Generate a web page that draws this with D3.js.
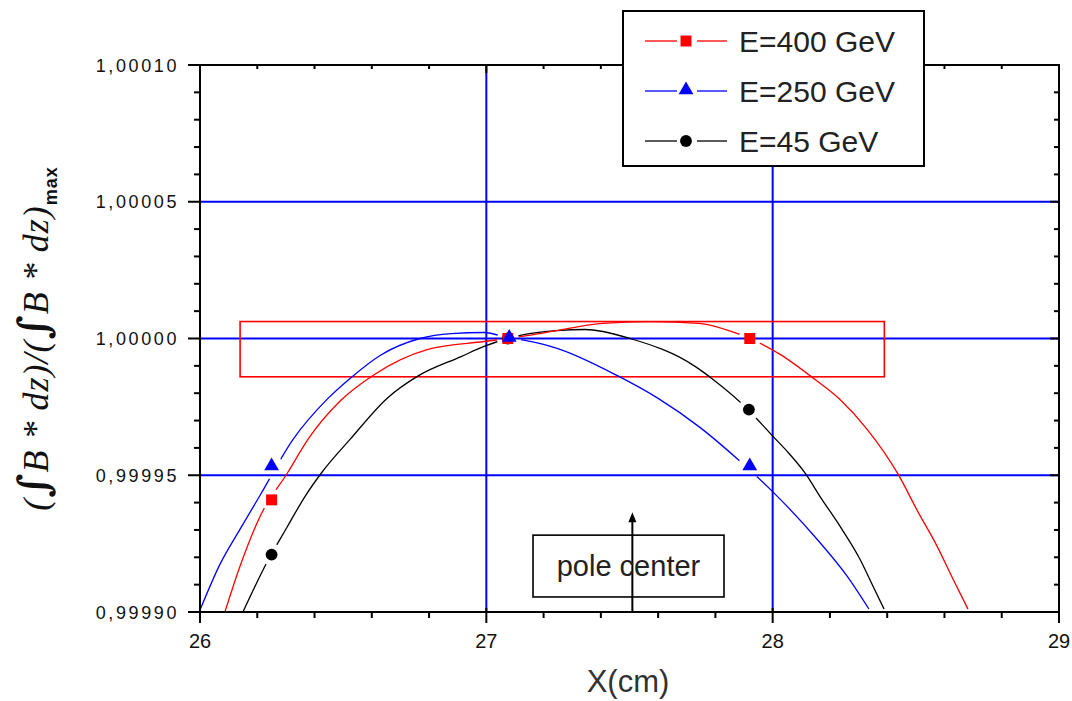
<!DOCTYPE html>
<html>
<head>
<meta charset="utf-8">
<script src="https://cdn.jsdelivr.net/npm/d3@7"></script>
<style>
  html, body { margin: 0; padding: 0; background: #fff; }
  svg { display: block; }
</style>
</head>
<body>
<svg id="chart" width="1072" height="701"></svg>
<script>
// ---------- data ----------
const seriesNames = ["E=400 GeV", "E=250 GeV", "E=45 GeV"];
const xTicks = [26, 27, 28, 29];
const yTicks = [0.99990, 0.99995, 1.00000, 1.00005, 1.00010];
const xGrid = [27, 28];
const yGrid = [0.99995, 1.00000, 1.00005];

// E=400 GeV (red) curve
const redX = [26.087, 26.140, 26.210, 26.307, 26.377, 26.492, 26.604, 26.796, 26.992, 27.076, 27.187, 27.407, 27.572, 27.743, 27.855, 27.921, 28.026, 28.148, 28.235, 28.330, 28.438, 28.508, 28.574, 28.630, 28.682];
const redY = [0.9999000, 0.9999168, 0.9999350, 0.9999511, 0.9999631, 0.9999774, 0.9999865, 0.9999960, 0.9999989, 1.0000000, 1.0000018, 1.0000055, 1.0000062, 1.0000055, 1.0000026, 1.0000000, 0.9999942, 0.9999850, 0.9999777, 0.9999668, 0.9999504, 0.9999365, 0.9999241, 0.9999120, 0.9999011];
// E=250 GeV (blue) curve
const blueX = [26.000, 26.070, 26.140, 26.210, 26.325, 26.447, 26.524, 26.629, 26.768, 26.877, 26.992, 27.083, 27.135, 27.247, 27.456, 27.600, 27.746, 27.886, 27.998, 28.155, 28.260, 28.336];
const blueY = [0.9999007, 0.9999175, 0.9999303, 0.9999427, 0.9999631, 0.9999781, 0.9999854, 0.9999938, 1.0000000, 1.0000018, 1.0000022, 1.0000000, 0.9999993, 0.9999964, 0.9999865, 0.9999781, 0.9999675, 0.9999551, 0.9999442, 0.9999266, 0.9999131, 0.9999011];
// E=45 GeV (black) curve
const blackX = [26.150, 26.234, 26.304, 26.367, 26.426, 26.524, 26.653, 26.765, 26.912, 26.992, 27.076, 27.135, 27.247, 27.345, 27.502, 27.729, 27.792, 27.917, 28.001, 28.050, 28.116, 28.165, 28.235, 28.305, 28.350, 28.389];
const blackY = [0.9999000, 0.9999182, 0.9999310, 0.9999423, 0.9999511, 0.9999631, 0.9999781, 0.9999865, 0.9999934, 0.9999971, 1.0000000, 1.0000015, 1.0000029, 1.0000033, 1.0000000, 0.9999898, 0.9999850, 0.9999737, 0.9999642, 0.9999588, 0.9999504, 0.9999423, 0.9999314, 0.9999193, 0.9999095, 0.9999011];

// symbols
const redMarkX = [26.25, 27.075, 27.92];
const redMarkY = [0.999941, 1.00000, 1.00000];
const blueMarkX = [26.25, 27.08, 27.92];
const blueMarkY = [0.999953, 1.00000, 0.999953];
const blackMarkX = [26.25, 27.075, 27.917];
const blackMarkY = [0.999921, 1.00000, 0.999974];

// annotations
const highlightBox = {x0: 26.14, x1: 28.39, y0: 0.999986, y1: 1.0000062};
const poleCenterX = 27.51;
const poleArrowTopY = 0.9999365;
const poleLabelBox = {x0: 27.163, x1: 27.83, y0: 0.9999055, y1: 0.9999281};
const poleLabel = "pole center";
const xTitle = "X(cm)";

// ---------- layout ----------
const svg = d3.select("#chart");
const L = 200, R = 1059, T = 65, B = 612;
const x = d3.scaleLinear().domain([26, 29]).range([L, R]);
const y = d3.scaleLinear().domain([0.9999, 1.0001]).range([B, T]);
const fmtY = v => d3.format(".5f")(v).replace(".", ",");

const colors = ["#ff0000", "#0000ff", "#000000"];

// grid lines (blue)
const grid = svg.append("g");
grid.selectAll("line.gx").data(xGrid).join("line")
  .attr("x1", d => x(d)).attr("x2", d => x(d)).attr("y1", T).attr("y2", B)
  .attr("stroke", "#0000ff").attr("stroke-width", 2);
grid.selectAll("line.gy").data(yGrid).join("line")
  .attr("x1", L).attr("x2", R).attr("y1", d => y(d)).attr("y2", d => y(d))
  .attr("stroke", "#0000ff").attr("stroke-width", 2);

// highlight rectangle
svg.append("rect")
  .attr("x", x(highlightBox.x0)).attr("y", y(highlightBox.y1))
  .attr("width", x(highlightBox.x1) - x(highlightBox.x0))
  .attr("height", y(highlightBox.y0) - y(highlightBox.y1))
  .attr("fill", "none").attr("stroke", "#ff0000").attr("stroke-width", 1.6);

// clip
const defs = svg.append("defs");
defs.append("clipPath").attr("id", "plotclip").append("rect")
  .attr("x", L).attr("y", T).attr("width", R - L).attr("height", B - T);

const series = [
  {xs: redX, ys: redY, mx: redMarkX, my: redMarkY, color: colors[0], sym: "square"},
  {xs: blueX, ys: blueY, mx: blueMarkX, my: blueMarkY, color: colors[1], sym: "triangle"},
  {xs: blackX, ys: blackY, mx: blackMarkX, my: blackMarkY, color: colors[2], sym: "circle"}
];

// masks with gaps around symbols
series.forEach((s, i) => {
  const m = defs.append("mask").attr("id", "gap" + i).attr("maskUnits", "userSpaceOnUse")
    .attr("x", 0).attr("y", 0).attr("width", 1072).attr("height", 701);
  m.append("rect").attr("x", 0).attr("y", 0).attr("width", 1072).attr("height", 701).attr("fill", "#fff");
  s.mx.forEach((mx, k) => {
    m.append("circle").attr("cx", x(mx)).attr("cy", y(s.my[k])).attr("r", i === 1 ? 12 : 11).attr("fill", "#000");
  });
});

const line = d3.line().x(d => x(d[0])).y(d => y(d[1])).curve(d3.curveMonotoneX);
const plot = svg.append("g").attr("clip-path", "url(#plotclip)");
// draw black first, then red, then blue
[2, 0, 1].forEach(i => {
  const s = series[i];
  const pts = s.xs.map((v, k) => [v, s.ys[k]]);
  plot.append("path").datum(pts).attr("d", line)
    .attr("fill", "none").attr("stroke", s.color).attr("stroke-width", 1.3)
    .attr("mask", "url(#gap" + i + ")");
});

function symbolPath(sym, size) {
  const t = sym === "square" ? d3.symbolSquare : sym === "triangle" ? d3.symbolTriangle : d3.symbolCircle;
  return d3.symbol().type(t).size(size)();
}
const symSize = {square: 120, triangle: 95, circle: 110};
[2, 0, 1].forEach(i => {
  const s = series[i];
  svg.selectAll(null).data(s.mx.map((v, k) => [v, s.my[k]])).join("path")
    .attr("transform", d => `translate(${x(d[0])},${y(d[1]) + (s.sym === "triangle" ? -1 : 0)})`)
    .attr("d", symbolPath(s.sym, symSize[s.sym]))
    .attr("fill", s.color);
});

// pole center annotation
svg.append("line")
  .attr("x1", x(poleCenterX)).attr("x2", x(poleCenterX))
  .attr("y1", B).attr("y2", y(poleArrowTopY) + 6)
  .attr("stroke", "#000").attr("stroke-width", 2);
svg.append("path")
  .attr("d", `M${x(poleCenterX)},${y(poleArrowTopY)} l-4,10 l8,0 z`)
  .attr("fill", "#000");
svg.append("rect")
  .attr("x", x(poleLabelBox.x0)).attr("y", y(poleLabelBox.y1))
  .attr("width", x(poleLabelBox.x1) - x(poleLabelBox.x0))
  .attr("height", y(poleLabelBox.y0) - y(poleLabelBox.y1))
  .attr("fill", "none").attr("stroke", "#000").attr("stroke-width", 1.6);
svg.append("text")
  .attr("x", (x(poleLabelBox.x0) + x(poleLabelBox.x1)) / 2)
  .attr("y", (y(poleLabelBox.y0) + y(poleLabelBox.y1)) / 2 + 10)
  .attr("text-anchor", "middle")
  .attr("font-family", "Liberation Sans, Arial, sans-serif").attr("font-size", 29)
  .attr("fill", "#222").text(poleLabel);

// frame
svg.append("rect").attr("x", L).attr("y", T).attr("width", R - L).attr("height", B - T)
  .attr("fill", "none").attr("stroke", "#000").attr("stroke-width", 2);

// ticks
const xMinor = d3.range(26, 29.0001, 0.2);
const yMinor = d3.range(0, 21).map(k => 0.9999 + k * 0.00001);
const isMajX = v => Math.abs(v - Math.round(v)) < 1e-6;
const isMajY = v => Math.abs(v * 20000 - Math.round(v * 20000)) < 1e-4;
const tk = svg.append("g").attr("stroke", "#000").attr("stroke-width", 2);
xMinor.forEach(v => {
  const maj = isMajX(v);
  tk.append("line").attr("x1", x(v)).attr("x2", x(v)).attr("y1", maj ? B - 4 : B).attr("y2", B + (maj ? 11 : 6));
  tk.append("line").attr("x1", x(v)).attr("x2", x(v)).attr("y1", T).attr("y2", T + (maj ? 8 : 4));
});
yMinor.forEach(v => {
  const maj = isMajY(v);
  tk.append("line").attr("x1", L - (maj ? 12 : 6)).attr("x2", L).attr("y1", y(v)).attr("y2", y(v));
  tk.append("line").attr("x1", R - (maj ? 9 : 5)).attr("x2", R).attr("y1", y(v)).attr("y2", y(v));
});

// tick labels
svg.append("g").selectAll("text").data(xTicks).join("text")
  .attr("x", d => x(d)).attr("y", 648).attr("text-anchor", "middle")
  .attr("font-family", "Liberation Sans, Arial, sans-serif").attr("font-size", 20)
  .attr("fill", "#111").text(d => d);
svg.append("g").selectAll("text").data(yTicks).join("text")
  .attr("x", 179).attr("y", d => y(d) + 6.5).attr("text-anchor", "end")
  .attr("font-family", "Liberation Sans, Arial, sans-serif").attr("font-size", 18)
  .attr("letter-spacing", 2.6)
  .attr("fill", "#111").text(d => fmtY(d));

// axis titles
svg.append("text").attr("x", 628).attr("y", 692).attr("text-anchor", "middle")
  .attr("font-family", "Liberation Sans, Arial, sans-serif").attr("font-size", 31)
  .attr("fill", "#333").text(xTitle);

const yt = svg.append("text")
  .attr("transform", `translate(48,${(T + B) / 2}) rotate(-90)`)
  .attr("text-anchor", "middle")
  .attr("font-family", "Liberation Serif, Times New Roman, serif")
  .attr("font-style", "italic").attr("font-size", 36).attr("letter-spacing", 1)
  .attr("fill", "#111");
const intSpan = () => yt.append("tspan").attr("font-style", "normal").attr("font-family", "DejaVu Serif, serif").attr("font-weight", "bold").attr("font-size", 42).text("∫");
yt.append("tspan").text("(");
intSpan();
yt.append("tspan").text("B * dz)/(");
intSpan();
yt.append("tspan").text("B * dz)");
yt.append("tspan").attr("font-style", "normal").attr("font-weight", "bold").attr("font-family", "Liberation Sans, Arial, sans-serif")
  .attr("font-size", 18).attr("dy", 9).text("max");

// legend
const lg = svg.append("g");
const lgX0 = 623, lgY0 = 11, lgW = 301, lgH = 155;
lg.append("rect").attr("x", lgX0).attr("y", lgY0).attr("width", lgW).attr("height", lgH)
  .attr("fill", "#fff").attr("stroke", "#000").attr("stroke-width", 2);
seriesNames.forEach((name, i) => {
  const cy = 41 + i * 50;
  const s = series[i];
  lg.append("line").attr("x1", 645).attr("x2", 677).attr("y1", cy).attr("y2", cy).attr("stroke", s.color).attr("stroke-width", 1.3);
  lg.append("line").attr("x1", 697).attr("x2", 727).attr("y1", cy).attr("y2", cy).attr("stroke", s.color).attr("stroke-width", 1.3);
  lg.append("path").attr("transform", `translate(686,${cy + (s.sym === "triangle" ? -1 : 0)})`)
    .attr("d", symbolPath(s.sym, symSize[s.sym])).attr("fill", s.color);
  lg.append("text").attr("x", 739).attr("y", cy + 11)
    .attr("font-family", "Liberation Sans, Arial, sans-serif").attr("font-size", 30)
    .attr("fill", "#222").text(name);
});
</script>
</body>
</html>
